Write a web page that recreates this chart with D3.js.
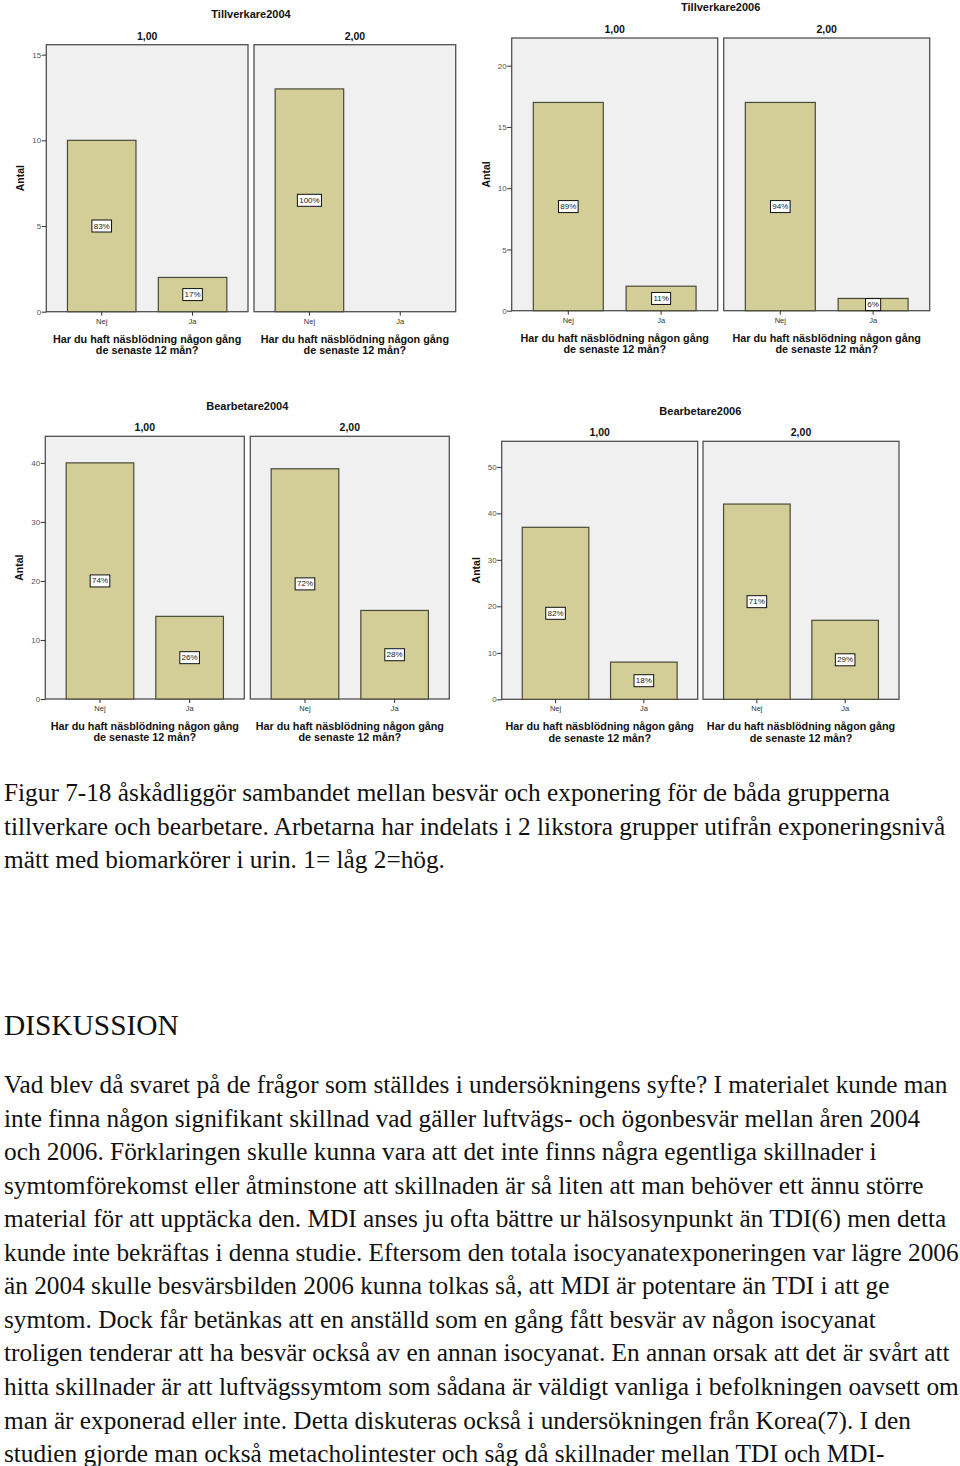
<!DOCTYPE html>
<html><head><meta charset="utf-8">
<script src="https://cdn.jsdelivr.net/npm/d3@7"></script>
<style>body{margin:0;background:#fff}</style></head>
<body><svg id="c" width="960" height="1466" xmlns="http://www.w3.org/2000/svg"></svg>
<script>
// ---------- DATA ----------
const categories = ["Nej", "Ja"];
const panelLabels = ["1,00", "2,00"];
const chartTitles = ["Tillverkare2004", "Tillverkare2006", "Bearbetare2004", "Bearbetare2006"];
const xAxisTitle = ["Har du haft näsblödning någon gång", "de senaste 12 mån?"];
const yAxisTitle = "Antal";

const tillverkare2004Low  = [10, 2];
const tillverkare2004High = [13, 0];
const tillverkare2006Low  = [17, 2];
const tillverkare2006High = [17, 1];
const bearbetare2004Low   = [40, 14];
const bearbetare2004High  = [39, 15];
const bearbetare2006Low   = [37, 8];
const bearbetare2006High  = [42, 17];

const yTicksT2004 = [0, 5, 10, 15];
const yTicksT2006 = [0, 5, 10, 15, 20];
const yTicksB2004 = [0, 10, 20, 30, 40];
const yTicksB2006 = [0, 10, 20, 30, 40, 50];

const figureText = [
  "Figur 7-18 åskådliggör sambandet mellan besvär och exponering för de båda grupperna",
  "tillverkare och bearbetare. Arbetarna har indelats i 2 likstora grupper utifrån exponeringsnivå",
  "mätt med biomarkörer i urin. 1= låg 2=hög."
];
const heading = "DISKUSSION";
const paragraph = [
  "Vad blev då svaret på de frågor som ställdes i undersökningens syfte? I materialet kunde man",
  "inte finna någon signifikant skillnad vad gäller luftvägs- och ögonbesvär mellan åren 2004",
  "och 2006. Förklaringen skulle kunna vara att det inte finns några egentliga skillnader i",
  "symtomförekomst eller åtminstone att skillnaden är så liten att man behöver ett ännu större",
  "material för att upptäcka den. MDI anses ju ofta bättre ur hälsosynpunkt än TDI(6) men detta",
  "kunde inte bekräftas i denna studie. Eftersom den totala isocyanatexponeringen var lägre 2006",
  "än 2004 skulle besvärsbilden 2006 kunna tolkas så, att MDI är potentare än TDI i att ge",
  "symtom. Dock får betänkas att en anställd som en gång fått besvär av någon isocyanat",
  "troligen tenderar att ha besvär också av en annan isocyanat. En annan orsak att det är svårt att",
  "hitta skillnader är att luftvägssymtom som sådana är väldigt vanliga i befolkningen oavsett om",
  "man är exponerad eller inte. Detta diskuteras också i undersökningen från Korea(7). I den",
  "studien gjorde man också metacholintester och såg då skillnader mellan TDI och MDI-"
];

// ---------- LAYOUT ----------
const charts = [
  {title: chartTitles[0], data: [tillverkare2004Low, tillverkare2004High], ticks: yTicksT2004, yMax: 15.58,
   left: 46.3, width: 201.7, gap: 6, top: 44.7, bottom: 311.7, titleY: 14},
  {title: chartTitles[1], data: [tillverkare2006Low, tillverkare2006High], ticks: yTicksT2006, yMax: 22.26,
   left: 511.7, width: 206, gap: 6, top: 38, bottom: 310.7, titleY: 6.5},
  {title: chartTitles[2], data: [bearbetare2004Low, bearbetare2004High], ticks: yTicksB2004, yMax: 44.5,
   left: 45.3, width: 199, gap: 6, top: 436.3, bottom: 699, titleY: 405.7},
  {title: chartTitles[3], data: [bearbetare2006Low, bearbetare2006High], ticks: yTicksB2006, yMax: 55.5,
   left: 501.7, width: 196, gap: 5.3, top: 441.3, bottom: 699.3, titleY: 410.7}
];

const SANS = "Arial, 'Liberation Sans', sans-serif";
const SERIF = "'Times New Roman', 'Liberation Serif', serif";
const BAR_FILL = "#d3ce97", BAR_STROKE = "#4a4a38", PANEL_BG = "#f0f0f0", PANEL_STROKE = "#505050";

const svg = d3.select("#c");

charts.forEach(cfg => {
  const g = svg.append("g");
  const y = d3.scaleLinear().domain([0, cfg.yMax]).range([cfg.bottom, cfg.top]);
  const totalRight = cfg.left + 2 * cfg.width + cfg.gap;

  // chart title
  g.append("text").attr("x", (cfg.left + totalRight) / 2).attr("y", cfg.titleY)
    .attr("text-anchor", "middle").attr("dominant-baseline", "central")
    .attr("font-family", SANS).attr("font-weight", "bold").attr("font-size", 11)
    .attr("fill", "#111").text(cfg.title);

  // y axis title
  g.append("text")
    .attr("transform", `translate(${cfg.left - 26},${(cfg.top + cfg.bottom) / 2}) rotate(-90)`)
    .attr("text-anchor", "middle").attr("dominant-baseline", "central")
    .attr("font-family", SANS).attr("font-weight", "bold").attr("font-size", 10.5)
    .attr("fill", "#111").text(yAxisTitle);

  cfg.data.forEach((vals, i) => {
    const x0 = cfg.left + i * (cfg.width + cfg.gap);
    const x = d3.scaleBand().domain(categories).range([x0, x0 + cfg.width])
      .paddingInner(0.246).paddingOuter(0.233);
    const total = d3.sum(vals);
    const pg = g.append("g");

    // panel background
    pg.append("rect").attr("x", x0).attr("y", cfg.top).attr("width", cfg.width)
      .attr("height", cfg.bottom - cfg.top).attr("fill", PANEL_BG)
      .attr("stroke", PANEL_STROKE).attr("stroke-width", 1.3);

    // panel label
    pg.append("text").attr("x", x0 + cfg.width / 2).attr("y", cfg.top - 9)
      .attr("text-anchor", "middle").attr("dominant-baseline", "central")
      .attr("font-family", SANS).attr("font-weight", "bold").attr("font-size", 10.5)
      .attr("fill", "#111").text(panelLabels[i]);

    // bars
    const rows = categories.map((c, k) => ({c, v: vals[k]}));
    pg.selectAll("rect.bar").data(rows.filter(d => d.v > 0)).join("rect")
      .attr("class", "bar")
      .attr("x", d => x(d.c)).attr("width", x.bandwidth())
      .attr("y", d => y(d.v)).attr("height", d => y(0) - y(d.v))
      .attr("fill", BAR_FILL).attr("stroke", BAR_STROKE).attr("stroke-width", 1.2);

    // x axis
    const xa = pg.append("g").attr("transform", `translate(0,${cfg.bottom})`)
      .call(d3.axisBottom(x).tickSize(4).tickPadding(2.5));
    xa.select(".domain").remove();
    xa.selectAll("line").attr("stroke", "#333");
    xa.selectAll("text").attr("font-family", SANS).attr("font-size", 7.5).attr("fill", "#333");

    // y axis (first panel only)
    if (i === 0) {
      const ya = pg.append("g").attr("transform", `translate(${x0},0)`)
        .call(d3.axisLeft(y).tickValues(cfg.ticks).tickSize(4.6).tickPadding(0.5));
      ya.select(".domain").remove();
      ya.selectAll("line").attr("stroke", "#333");
      ya.selectAll("text").attr("font-family", SANS).attr("font-size", 8).attr("fill", "#555");
    }

    // percentage labels
    rows.filter(d => d.v > 0).forEach(d => {
      const lg = pg.append("g")
        .attr("transform", `translate(${x(d.c) + x.bandwidth() / 2},${y(d.v / 2)})`);
      const r = lg.append("rect");
      const t = lg.append("text").attr("text-anchor", "middle").attr("dominant-baseline", "central")
        .attr("font-family", SANS).attr("font-size", 8).attr("fill", "#222")
        .text(Math.round(d.v / total * 100) + "%");
      const bb = t.node().getBBox();
      r.attr("x", -bb.width / 2 - 1.8).attr("y", -6).attr("width", bb.width + 3.6).attr("height", 12)
        .attr("fill", "#fff").attr("stroke", "#111").attr("stroke-width", 1);
    });

    // x axis title
    xAxisTitle.forEach((line, k) => {
      pg.append("text").attr("x", x0 + cfg.width / 2).attr("y", cfg.bottom + 27 + k * 11.2)
        .attr("text-anchor", "middle").attr("dominant-baseline", "central")
        .attr("font-family", SANS).attr("font-weight", "bold").attr("font-size", 10.8)
        .attr("fill", "#111").text(line);
    });
  });
});

// ---------- TEXT ----------
const tg = svg.append("g").attr("font-family", SERIF).attr("fill", "#111");
figureText.forEach((line, k) => {
  tg.append("text").attr("x", 4).attr("y", 801 + k * 33.5).attr("font-size", 25.3).text(line);
});
tg.append("text").attr("x", 4).attr("y", 1035).attr("font-size", 29.4).text(heading);
paragraph.forEach((line, k) => {
  tg.append("text").attr("x", 4).attr("y", 1093 + k * 33.55).attr("font-size", 25.3).text(line);
});
</script>
</body></html>
